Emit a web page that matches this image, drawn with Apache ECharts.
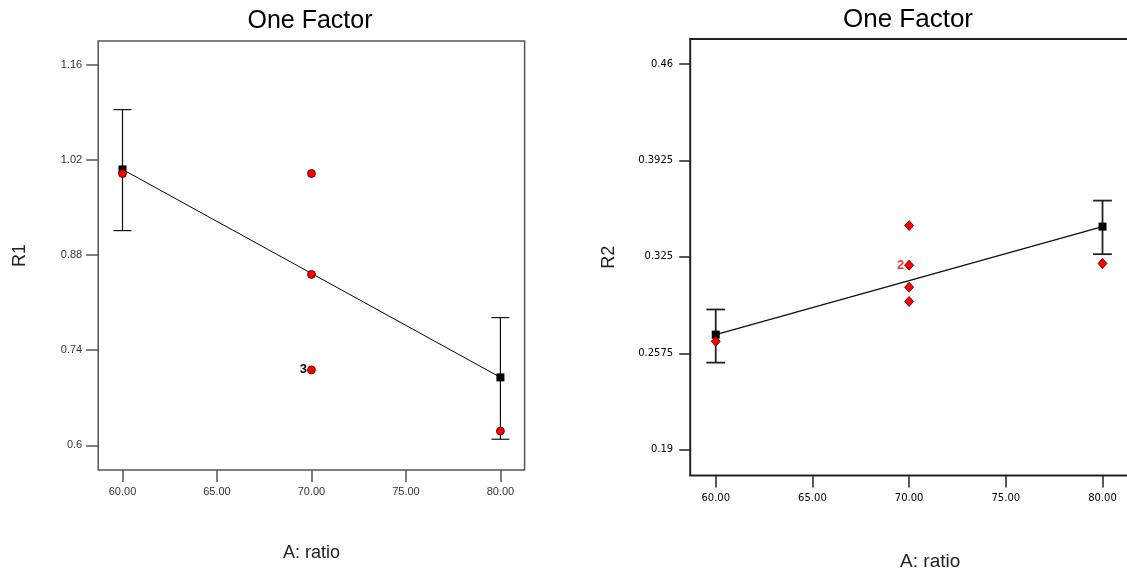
<!DOCTYPE html>
<html>
<head>
<meta charset="utf-8">
<script src="https://cdn.jsdelivr.net/npm/echarts@6/dist/echarts.min.js"></script>
<style>html,body{margin:0;padding:0;background:#fff;overflow:hidden}#c{width:1180px;height:572px}</style>
</head>
<body>
<div id="c"></div>
<script>
// ---- data ----
const titleText = 'One Factor';
const xName = 'A: ratio';
const xTicks = [60, 65, 70, 75, 80];
const xTickLabels = ['60.00', '65.00', '70.00', '75.00', '80.00'];
const r1Ticks = [0.6, 0.74, 0.88, 1.02, 1.16];
const r1TickLabels = ['0.6', '0.74', '0.88', '1.02', '1.16'];
const r2Ticks = [0.19, 0.2575, 0.325, 0.3925, 0.46];
const r2TickLabels = ['0.19', '0.2575', '0.325', '0.3925', '0.46'];

const r1Points = [[60, 1.000], [70, 1.000], [70, 0.8515], [70, 0.711], [80, 0.621]];
const r1Counts = [1, 1, 1, 3, 1];
const r1Mean = [[60, 1.006], [80, 0.700]];
const r1Err = [[60, 0.916, 1.094], [80, 0.609, 0.788]];

const r2Points = [[60, 0.2659], [70, 0.3469], [70, 0.3192], [70, 0.3038], [70, 0.2938], [80, 0.3204]];
const r2Counts = [1, 1, 2, 1, 1, 1];
const r2Mean = [[60, 0.2706], [80, 0.3462]];
const r2Err = [[60, 0.251, 0.2882], [80, 0.3269, 0.3644]];

// ---- chart ----
const chart = echarts.init(document.getElementById('c'), null, {renderer: 'canvas'});

function labelFrom(ticks, labels) {
  return function (v) {
    for (let i = 0; i < ticks.length; i++) if (Math.abs(ticks[i] - v) < 1e-6) return labels[i];
    return '';
  };
}

function errRender(capHalf, color, lw) {
  return function (params, api) {
    const x = api.value(0);
    const lo = api.coord([x, api.value(1)]);
    const hi = api.coord([x, api.value(2)]);
    const st = {stroke: color, lineWidth: lw};
    return {
      type: 'group',
      children: [
        {type: 'line', shape: {x1: lo[0], y1: lo[1], x2: hi[0], y2: hi[1]}, style: st},
        {type: 'line', shape: {x1: lo[0] - capHalf, y1: lo[1], x2: lo[0] + capHalf, y2: lo[1]}, style: st},
        {type: 'line', shape: {x1: hi[0] - capHalf, y1: hi[1], x2: hi[0] + capHalf, y2: hi[1]}, style: st}
      ]
    };
  };
}

function pointData(points, counts, labelColor, fontSize) {
  return points.map((p, i) => ({
    value: p,
    label: counts[i] > 1 ? {
      show: true, position: 'left', distance: 0,
      formatter: String(counts[i]), color: labelColor,
      fontWeight: 'bold', fontSize: fontSize, fontFamily: 'Liberation Sans'
    } : {show: false}
  }));
}

const option = {
  animation: false,
  backgroundColor: '#fff',
  graphic: [
    {type: 'text', x: 310, y: 9, style: {text: titleText, x: 0, y: 0, textAlign: 'center',
      font: '25px "Liberation Sans"', fill: '#000'}},
    {type: 'text', x: 908, y: 7, style: {text: titleText, x: 0, y: 0, textAlign: 'center',
      font: '26px "Liberation Sans"', fill: '#000'}}
  ],
  grid: [
    {left: 98.2, top: 41, width: 426.4, height: 429, outerBoundsMode: 'none', containLabel: false,
     show: true, borderColor: '#555', borderWidth: 1.5, backgroundColor: 'transparent'},
    {left: 690.2, top: 39, width: 480, height: 436.5, outerBoundsMode: 'none', containLabel: false,
     show: true, borderColor: '#222', borderWidth: 2, backgroundColor: 'transparent'}
  ],
  xAxis: [
    {type: 'value', gridIndex: 0, min: 58.714, max: 81.28,
     name: xName, nameLocation: 'middle', nameGap: 74,
     nameTextStyle: {fontFamily: 'Liberation Sans', fontSize: 18, color: '#222'},
     axisLine: {show: false}, splitLine: {show: false},
     axisTick: {show: true, inside: false, length: 12, customValues: xTicks, lineStyle: {color: '#555', width: 1.5}},
     axisLabel: {customValues: xTicks, formatter: labelFrom(xTicks, xTickLabels), margin: 16,
                 fontFamily: 'Liberation Sans', fontSize: 11, color: '#333'}},
    {type: 'value', gridIndex: 1, min: 58.68, max: 83.5,
     name: xName, nameLocation: 'middle', nameGap: 77,
     nameTextStyle: {fontFamily: 'Liberation Sans', fontSize: 19, color: '#222'},
     axisLine: {show: false}, splitLine: {show: false},
     axisTick: {show: true, inside: false, length: 12, customValues: xTicks, lineStyle: {color: '#222', width: 1.5}},
     axisLabel: {customValues: xTicks, formatter: labelFrom(xTicks, xTickLabels), margin: 18,
                 fontFamily: 'DejaVu Sans', fontSize: 10, color: '#000'}}
  ],
  yAxis: [
    {type: 'value', gridIndex: 0, min: 0.5637, max: 1.195,
     name: 'R1', nameLocation: 'middle', nameGap: 69, nameRotate: 90,
     nameTextStyle: {fontFamily: 'Liberation Sans', fontSize: 18, color: '#222'},
     axisLine: {show: false}, splitLine: {show: false},
     axisTick: {show: true, inside: false, length: 12, customValues: r1Ticks, lineStyle: {color: '#555', width: 1.5}},
     axisLabel: {customValues: r1Ticks, formatter: labelFrom(r1Ticks, r1TickLabels), margin: 16,
                 fontFamily: 'Liberation Sans', fontSize: 11, color: '#333'}},
    {type: 'value', gridIndex: 1, min: 0.172, max: 0.4775,
     name: 'R2', nameLocation: 'middle', nameGap: 72, nameRotate: 90,
     nameTextStyle: {fontFamily: 'Liberation Sans', fontSize: 18, color: '#222'},
     axisLine: {show: false}, splitLine: {show: false},
     axisTick: {show: true, inside: false, length: 11, customValues: r2Ticks, lineStyle: {color: '#222', width: 1.5}},
     axisLabel: {customValues: r2Ticks, formatter: labelFrom(r2Ticks, r2TickLabels), margin: 17,
                 fontFamily: 'DejaVu Sans', fontSize: 10, color: '#000'}}
  ],
  series: [
    // left chart
    {type: 'custom', xAxisIndex: 0, yAxisIndex: 0, data: r1Err, renderItem: errRender(9, '#111', 1.2), z: 2},
    {type: 'line', xAxisIndex: 0, yAxisIndex: 0, data: r1Mean, symbol: 'rect', symbolSize: 8, showSymbol: true,
     lineStyle: {color: '#000', width: 1}, itemStyle: {color: '#000'}, z: 3},
    {type: 'scatter', xAxisIndex: 0, yAxisIndex: 0, data: pointData(r1Points, r1Counts, '#000', 13),
     symbol: 'circle', symbolSize: 8, itemStyle: {color: '#ff0000', borderColor: '#300', borderWidth: 0.8, opacity: 1}, z: 4},
    // right chart
    {type: 'custom', xAxisIndex: 1, yAxisIndex: 1, data: r2Err, renderItem: errRender(9.4, '#222', 1.8), z: 2},
    {type: 'line', xAxisIndex: 1, yAxisIndex: 1, data: r2Mean, symbol: 'rect', symbolSize: 8, showSymbol: true,
     lineStyle: {color: '#111', width: 1.5}, itemStyle: {color: '#000'}, z: 3},
    {type: 'scatter', xAxisIndex: 1, yAxisIndex: 1, data: pointData(r2Points, r2Counts, '#ff3030', 13),
     symbol: 'diamond', symbolSize: [9, 10], itemStyle: {color: '#ff0000', borderColor: '#300', borderWidth: 0.8, opacity: 1}, z: 4}
  ]
};
chart.setOption(option);
</script>
</body>
</html>
